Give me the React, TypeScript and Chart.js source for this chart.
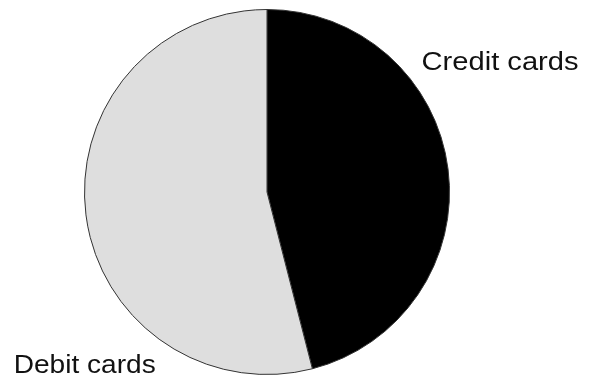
import React, { useEffect, useRef } from "react";
import { Chart, registerables } from "chart.js";

Chart.register(...registerables);

const categories = ["Credit cards", "Debit cards"];
const values = [46, 54];
const colors = ["#000000", "#dedede"];

const labelPlugin = {
  id: "sliceLabels",
  afterDatasetsDraw(chart: any) {
    const meta = chart.getDatasetMeta(0);
    const arc = meta.data[0];
    if (!arc) return;
    const { x: cx, y: cy, outerRadius: r } = arc.getProps(["x", "y", "outerRadius"], true);
    const ctx = chart.ctx;
    const draw = (t: string, x: number, y: number, sx: number) => {
      ctx.save();
      ctx.translate(x, y);
      ctx.scale(sx, 1);
      ctx.fillStyle = "#111";
      ctx.font = "26px 'Liberation Sans', Arial, sans-serif";
      ctx.textAlign = "left";
      ctx.textBaseline = "alphabetic";
      ctx.fillText(t, 0, 0);
      ctx.restore();
    };
    draw(categories[0], cx + 0.847 * r, cy - 0.667 * r, 1.12);
    draw(categories[1], cx - 1.388 * r, cy + 0.99 * r, 1.08);
  },
};

export default function App() {
  const ref = useRef<HTMLCanvasElement | null>(null);
  useEffect(() => {
    document.body.style.margin = "0";
    const c = new Chart(ref.current as HTMLCanvasElement, {
      type: "pie",
      data: {
        labels: categories,
        datasets: [
          {
            data: values,
            backgroundColor: colors,
            borderColor: "#333333",
            borderWidth: 1,
          },
        ],
      },
      options: {
        responsive: false,
        animation: false,
        layout: { padding: { top: 9, bottom: 4, left: 0, right: 55 } },
        plugins: { legend: { display: false }, tooltip: { enabled: false } },
      },
      plugins: [labelPlugin],
    });
    return () => c.destroy();
  }, []);
  return (
    <div style={{ width: 589, height: 379, background: "#fff" }}>
      <canvas ref={ref} width={589} height={379} />
    </div>
  );
}
